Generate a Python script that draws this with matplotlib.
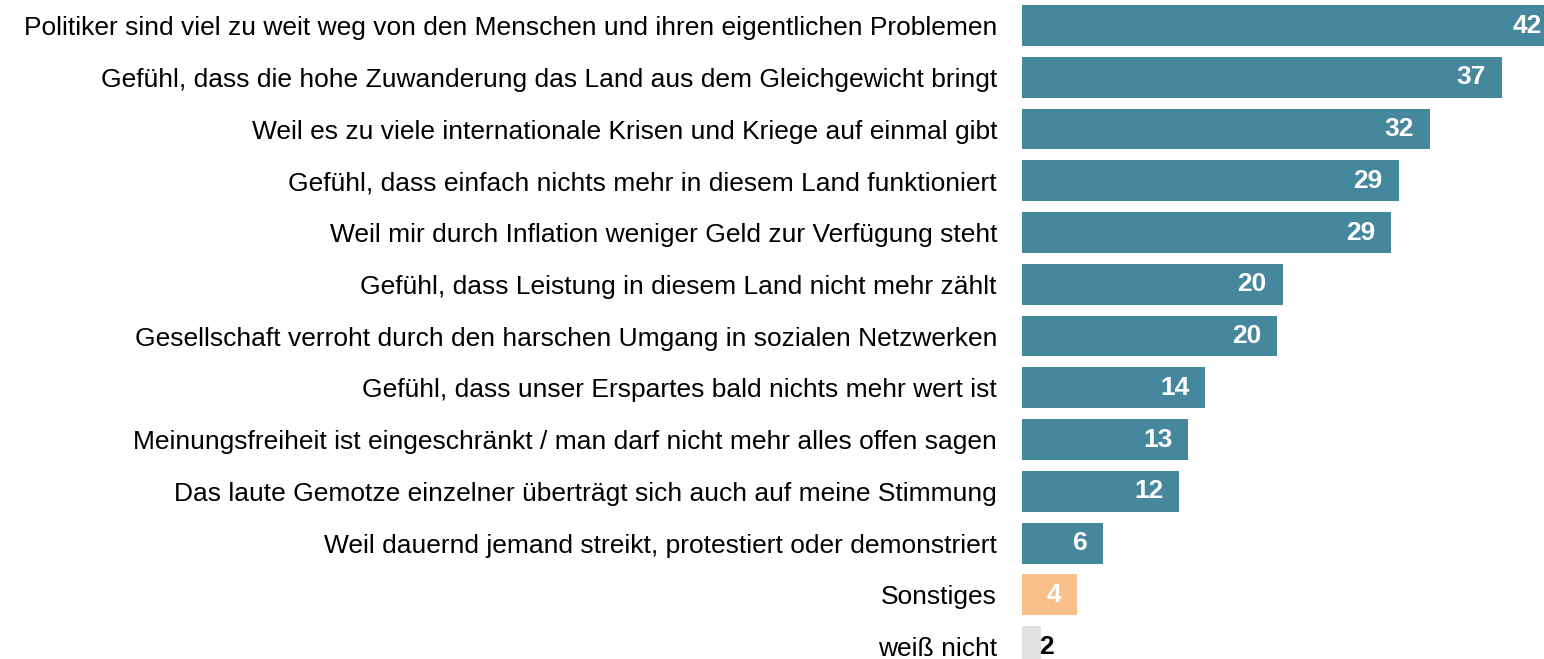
import matplotlib.pyplot as plt

plt.rcParams['font.family'] = ['Liberation Sans', 'DejaVu Sans']

labels = [
    'Politiker sind viel zu weit weg von den Menschen und ihren eigentlichen Problemen',
    'Gefühl, dass die hohe Zuwanderung das Land aus dem Gleichgewicht bringt',
    'Weil es zu viele internationale Krisen und Kriege auf einmal gibt',
    'Gefühl, dass einfach nichts mehr in diesem Land funktioniert',
    'Weil mir durch Inflation weniger Geld zur Verfügung steht',
    'Gefühl, dass Leistung in diesem Land nicht mehr zählt',
    'Gesellschaft verroht durch den harschen Umgang in sozialen Netzwerken',
    'Gefühl, dass unser Erspartes bald nichts mehr wert ist',
    'Meinungsfreiheit ist eingeschränkt / man darf nicht mehr alles offen sagen',
    'Das laute Gemotze einzelner überträgt sich auch auf meine Stimmung',
    'Weil dauernd jemand streikt, protestiert oder demonstriert',
    'Sonstiges',
    'weiß nicht',
]
values = [41.5, 37.2, 31.6, 29.2, 28.6, 20.2, 19.8, 14.2, 12.9, 12.2, 6.3, 4.3, 1.5]
colors = ['#45879c'] * 11 + ['#f8bf8b', '#e1e1e1']

fig = plt.figure(figsize=(15.44, 6.59), dpi=100)
ax = fig.add_axes([1022 / 1544, 0, 1 - 1022 / 1544, 1])

ypos = list(range(len(values)))
ax.barh(ypos, values, height=0.79, color=colors)

for y, v in zip(ypos, values):
    if v < 3:
        ax.annotate('%.0f' % v, (v, y), xytext=(-1.5, 0), textcoords='offset points',
                    ha='left', va='center', fontsize=19, fontweight='bold', color='black',
                    annotation_clip=False)
    else:
        ax.annotate('%.0f' % v, (v, y), xytext=(-11.5, 0), textcoords='offset points',
                    ha='right', va='center', fontsize=19, fontweight='bold', color='white',
                    annotation_clip=False)

ax.set_xlim(0, 522 / 12.9)
ax.set_ylim(12.24, -0.493)
ax.set_yticks(ypos)
ax.set_yticklabels(labels, fontsize=19)
ax.tick_params(axis='y', length=0, pad=18)
ax.set_xticks([])
for s in ax.spines.values():
    s.set_visible(False)

fig.savefig('out.png', dpi=100)
